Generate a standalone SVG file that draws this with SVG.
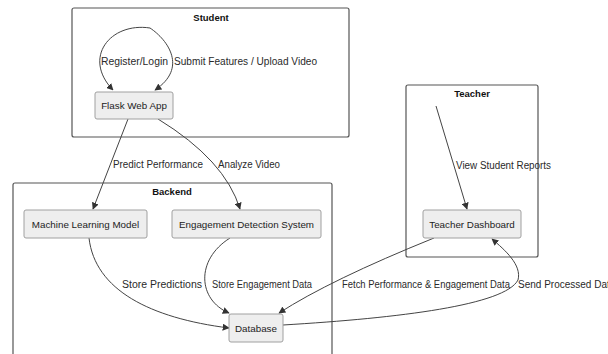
<svg xmlns="http://www.w3.org/2000/svg" width="608" height="354" viewBox="0 0 608 354">
<defs>
<style>
.cluster{fill:#ffffff;stroke:#555555;stroke-width:1.2}
.ctitle{font-family:"Liberation Sans",Arial,sans-serif;font-size:9.5px;font-weight:bold;fill:#111;text-anchor:middle}
.node rect{fill:#eeeeee;stroke:#a0a0a0;stroke-width:1}
.node text{font-family:"Liberation Sans",Arial,sans-serif;font-size:9.8px;fill:#222;text-anchor:middle}
.edge{fill:none;stroke:#444;stroke-width:1}
.lbl{font-family:"Liberation Sans",Arial,sans-serif;font-size:10px;fill:#2a2a2a}
</style>
<marker id="arr" viewBox="0 0 10 10" refX="9" refY="5" markerWidth="7" markerHeight="7" orient="auto-start-reverse" markerUnits="userSpaceOnUse">
<path d="M0,0 L10,5 L0,10 z" fill="#333"/>
</marker>
</defs>
<rect width="608" height="354" fill="#ffffff"/>
<g id="student">
<rect class="cluster" x="72" y="8" width="277" height="129" rx="2"/>
<text class="ctitle" x="211" y="21">Student</text>
</g>
<g id="backend">
<rect class="cluster" x="13" y="183" width="319" height="175" rx="2"/>
<text class="ctitle" x="172" y="195">Backend</text>
</g>
<g id="teacher">
<rect class="cluster" x="406" y="85" width="132" height="172" rx="2"/>
<text class="ctitle" x="472" y="97">Teacher</text>
</g>
<g id="connectors">
<path class="edge" d="M150,28 C110,22 82,58 113,90" marker-end="url(#arr)"/>
<path class="edge" d="M150,28 C168,40 188,68 155,90" marker-end="url(#arr)"/>
<path class="edge" d="M128,119 L93,209" marker-end="url(#arr)"/>
<path class="edge" d="M158,119 Q225,160 240,209" marker-end="url(#arr)"/>
<path class="edge" d="M89,238 C95,290 150,318 229,328" marker-end="url(#arr)"/>
<path class="edge" d="M230,238 C195,260 198,300 229,313" marker-end="url(#arr)"/>
<path class="edge" d="M436,106 L467,209" marker-end="url(#arr)"/>
<path class="edge" d="M434,238 Q330,280 279,313" marker-end="url(#arr)"/>
<path class="edge" d="M283,325 C400,318 505,305 518,280 C522,265 505,250 492,239" marker-end="url(#arr)"/>
<text class="lbl" x="101" y="65" textLength="67" lengthAdjust="spacingAndGlyphs">Register/Login</text>
<text class="lbl" x="174" y="65" textLength="143" lengthAdjust="spacingAndGlyphs">Submit Features / Upload Video</text>
<text class="lbl" x="113" y="168" textLength="90" lengthAdjust="spacingAndGlyphs">Predict Performance</text>
<text class="lbl" x="218" y="168" textLength="62" lengthAdjust="spacingAndGlyphs">Analyze Video</text>
<text class="lbl" x="122" y="288" textLength="80" lengthAdjust="spacingAndGlyphs">Store Predictions</text>
<text class="lbl" x="212" y="288" textLength="100" lengthAdjust="spacingAndGlyphs">Store Engagement Data</text>
<text class="lbl" x="456" y="169" textLength="95" lengthAdjust="spacingAndGlyphs">View Student Reports</text>
<text class="lbl" x="342" y="288" textLength="168" lengthAdjust="spacingAndGlyphs">Fetch Performance &amp; Engagement Data</text>
<text class="lbl" x="518" y="288">Send Processed Data</text>
</g>
<g id="flask" class="node">
<rect x="95" y="92" width="78" height="27" rx="2"/>
<text x="134" y="109">Flask Web App</text>
</g>
<g id="ml" class="node">
<rect x="24" y="210" width="123" height="28" rx="2"/>
<text x="85.5" y="228">Machine Learning Model</text>
</g>
<g id="eds" class="node">
<rect x="172" y="210" width="149" height="28" rx="2"/>
<text x="246.5" y="228">Engagement Detection System</text>
</g>
<g id="db" class="node">
<rect x="229" y="314" width="54" height="28" rx="2"/>
<text x="256" y="332">Database</text>
</g>
<g id="dashboard" class="node">
<rect x="423" y="210" width="98" height="28" rx="2"/>
<text x="472" y="228">Teacher Dashboard</text>
</g>
</svg>
